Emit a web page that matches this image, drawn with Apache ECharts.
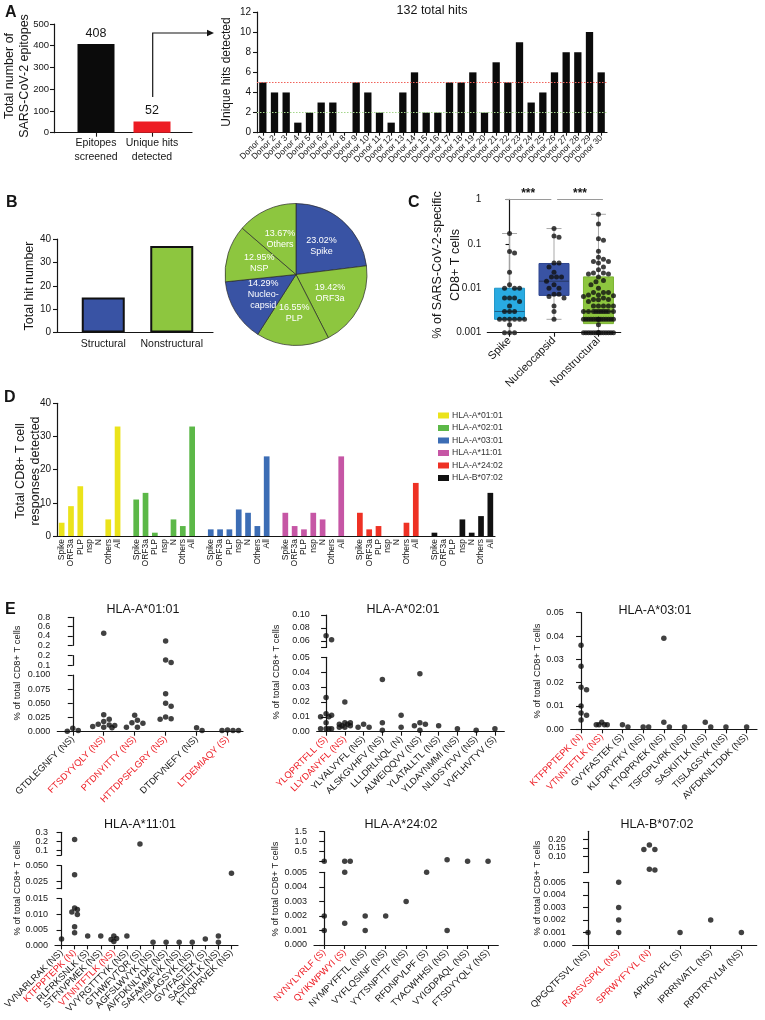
<!DOCTYPE html>
<html><head><meta charset="utf-8">
<script src="https://cdn.jsdelivr.net/npm/echarts@6/dist/echarts.min.js"></script>
<style>html,body{margin:0;padding:0;background:#fff}#c{width:765px;height:1020px}</style>
</head><body><div id="c"></div>
<script>
// ================= DATA =================
// Panel A (left)
const epitopeCategories = ['Epitopes\nscreened', 'Unique hits\ndetected'];
const epitopeCounts = [408, 52];
// Panel A (right)
const hitsTitle = '132 total hits';
const donorLabels = ['Donor 1','Donor 2','Donor 3','Donor 4','Donor 5','Donor 6','Donor 7','Donor 8','Donor 9','Donor 10',
  'Donor 11','Donor 12','Donor 13','Donor 14','Donor 15','Donor 16','Donor 17','Donor 18','Donor 19','Donor 20',
  'Donor 21','Donor 22','Donor 23','Donor 24','Donor 25','Donor 26','Donor 27','Donor 28','Donor 29','Donor 30'];
const donorHits = [5,4,4,1,2,3,3,0,5,4,2,1,4,6,2,2,5,5,6,2,7,5,9,3,4,6,8,8,10,6];
const donorRefLines = [5, 2];
// Panel B
const hitTypeCategories = ['Structural', 'Nonstructural'];
const hitTypeCounts = [15, 37];
const pieNames = ['Spike', 'ORF3a', 'PLP', 'Nucleo-\ncapsid', 'NSP', 'Others'];
const pieValues = [23.02, 19.42, 16.55, 14.29, 12.95, 13.67];
const pieIsStructural = [true, false, false, true, false, false];
// Panel C  (box stats: min, Q1, median, Q3, max)
const responseCategories = ['Spike', 'Nucleocapsid', 'Nonstructural'];
const spikeBox = [0.001, 0.002, 0.003, 0.010, 0.17];
const nucleocapsidBox = [0.002, 0.0069, 0.0144, 0.036, 0.22];
const nonstructuralBox = [0.001, 0.0016, 0.003, 0.018, 0.46];
const spikePoints = [0.17,0.067,0.062,0.023,0.012,0.010,0.010,0.010,0.006,0.006,0.006,0.005,0.004,0.003,0.003,0.003,
  0.002,0.002,0.002,0.002,0.002,0.002,0.0015,0.001,0.001,0.001];
const nucleocapsidPoints = [0.22,0.15,0.14,0.037,0.037,0.030,0.023,0.018,0.018,0.018,0.0144,0.012,0.010,0.010,
  0.0073,0.0073,0.0065,0.006,0.004,0.003,0.002];
const nonstructuralPoints = [0.46,0.28,0.13,0.12,0.068,0.050,0.045,0.040,0.040,0.037,0.030,0.026,0.022,0.022,0.021,0.021,
  0.018,0.015,0.014,0.012,0.010,0.008,0.008,0.008,0.007,0.007,0.0068,0.0065,0.006,0.0056,0.0056,0.0055,0.005,
  0.004,0.004,0.004,0.004,0.004,0.003,0.003,0.003,0.003,0.003,0.003,0.003,0.003,0.003,0.003,
  0.002,0.002,0.002,0.002,0.002,0.002,0.002,0.002,0.002,0.002,0.002,0.002,0.002,0.002,0.002,0.0015,
  0.001,0.001,0.001,0.001,0.001,0.001,0.001,0.001,0.001,0.001,0.001,0.001,0.001,0.001,0.001];
const significanceLabel = '***';
// Panel D
const proteinCategories = ['Spike', 'ORF3a', 'PLP', 'nsp', 'N', 'Others', 'All'];
const hlaAlleles = ['HLA-A*01:01', 'HLA-A*02:01', 'HLA-A*03:01', 'HLA-A*11:01', 'HLA-A*24:02', 'HLA-B*07:02'];
const a0101Counts = [4, 9, 15, 0, 0, 5, 33];
const a0201Counts = [11, 13, 1, 0, 5, 3, 33];
const a0301Counts = [2, 2, 2, 8, 7, 3, 24];
const a1101Counts = [7, 3, 2, 7, 5, 0, 24];
const a2402Counts = [7, 2, 3, 0, 0, 4, 16];
const b0702Counts = [1, 0, 0, 5, 1, 6, 13];
// Panel E
const e0101Labels = ['GTDLEGNFY (NS)','FTSDYYQLY (NS)','PTDNYITTY (NS)','HTTDPSFLGRY (NS)','DTDFVNEFY (NS)','LTDEMIAQY (S)'];
const e0101Highlighted = ['FTSDYYQLY (NS)','PTDNYITTY (NS)','HTTDPSFLGRY (NS)','LTDEMIAQY (S)'];
const e0101Values = [[0.006,0.001,0.002],[0.46,0.030,0.013,0.011,0.009,0.007,0.008,0.012,0.018,0.022],
  [0.020,0.029,0.016,0.008,0.008,0.015],[0.29,0.155,0.13,0.067,0.050,0.045,0.026,0.022,0.023],[0.002,0.007],[0.002,0.002,0.002,0.003]];
const e0101Breaks = [[0,0.1],[0.1,0.2],[0.2,0.8]];
const e0101Ticks = [['0.000','0.025','0.050','0.075','0.100'],['0.1','0.2'],['0.2','0.4','0.6','0.8']];

const e0201Labels = ['YLQPRTFLL (S)','LLYDANYFL (NS)','YLYALVYFL (NS)','ALSKGVHFV (NS)','LLLDRLNQL (N)','ALWEIQQVV (NS)',
  'YLATALLTL (NS)','YLDAYNMMI (NS)','NLIDSYFVV (NS)','VVFLHVTYV (S)'];
const e0201Highlighted = ['YLQPRTFLL (S)','LLYDANYFL (NS)'];
const e0201Values = [[0.062,0.068,0.023,0.012,0.011,0.010,0.010,0.006,0.002,0.002,0.002,0.002],
  [0.020,0.005,0.004,0.006,0.003,0.003,0.004,0.005,0.006],[0.005,0.003,0.003],[0.035,0.006,0.001],[0.011,0.003],
  [0.039,0.006,0.005,0.004,0.001],[0.004],[0.002],[0.001],[0.002]];
const e0201Breaks = [[0,0.05],[0.05,0.10]];
const e0201Ticks = [['0.00','0.01','0.02','0.03','0.04','0.05'],['0.06','0.08','0.10']];

const e0301Labels = ['KTFPPTEPK (N)','VTNNTFTLK (NS)','GVYFASTEK (S)','KLFDRYFKY (NS)','KTIQPRVEK (NS)','TSFGPLVRK (NS)',
  'SASKIITLK (NS)','TISLAGSYK (NS)','AVFDKNLTDDK (NS)'];
const e0301Highlighted = ['KTFPPTEPK (N)','VTNNTFTLK (NS)'];
const e0301Values = [[0.036,0.027,0.017,0.018,0.010,0.007,0.006,0.004],[0.002,0.002,0.002,0.002,0.003],[0.001,0.002],
  [0.001,0.001],[0.001,0.039,0.003],[0.001],[0.001,0.003],[0.001],[0.001]];
const e0301Breaks = [[0,0.05]];
const e0301Ticks = [['0.00','0.01','0.02','0.03','0.04','0.05']];

const e1101Labels = ['VVNARLRAK (NS)','KTFPPTEPK (N)','RLFRKSNLK (S)','STFNVPMEK (NS)','VTNNTFTLK (NS)','VVYRGTTTYK (NS)',
  'GTHWFVTQR (S)','AGFSLWVYK (NS)','AVFDKNLYDK (NS)','SAFAMMFVK (NS)','TISLAGSYK (NS)','GVYFASTEK (S)','SASKIITLK (NS)','KTIQPRVEK (NS)'];
const e1101Highlighted = ['KTFPPTEPK (N)','VTNNTFTLK (NS)'];
const e1101Values = [[0.002],[0.22,0.036,0.012,0.0115,0.0107,0.0099,0.004,0.006],[0.003],[0.003],[0.003,0.0022,0.0012,0.0019],
  [0.003],[0.17],[0.001],[0.001],[0.001],[0.001],[0.002],[0.001,0.003],[0.038]];
const e1101Breaks = [[0,0.015],[0.014,0.05],[0.05,0.3]];
const e1101Ticks = [['0.000','0.005','0.010','0.015'],['0.025','0.050'],['0.1','0.2','0.3']];

const e2402Labels = ['NYNYLYRLF (S)','QYIKWPWYI (S)','NYMPYFFTL (NS)','VYFLQSINF (NS)','YYTSNPTTF (NS)','RFDNPVLPF (S)',
  'TYACWHHSI (NS)','VYIGDPAQL (NS)','FTSDYYQLY (NS)'];
const e2402Highlighted = ['NYNYLYRLF (S)','QYIKWPWYI (S)'];
const e2402Values = [[0.02,0.002,0.001],[0.02,0.02,0.005,0.0015],[0.002,0.001],[0.002],[0.003],[0.005],[0.1,0.001],[0.02],[0.02]];
const e2402Breaks = [[0,0.005],[0,1.5]];
const e2402Ticks = [['0.000','0.001','0.002','0.003','0.004','0.005'],['0.5','1.0','1.5']];

const b0702Labels = ['QPGQTFSVL (NS)','RARSVSPKL (NS)','SPRWYFYYL (N)','APHGVVFL (S)','IPRRNVATL (NS)','RPDTRYVLM (NS)'];
const b0702Highlighted = ['RARSVSPKL (NS)','SPRWYFYYL (N)'];
const b0702Values = [[0.001],[0.005,0.003,0.002,0.001],[0.14,0.14,0.167,0.016,0.02],[0.001],[0.002],[0.001]];
const b0702Breaks = [[0,0.005],[0,0.25]];
const b0702Ticks = [['0.000','0.001','0.002','0.003','0.004','0.005'],['0.05','0.10','0.15','0.20','0.25']];

// ================= STYLE / LAYOUT =================
const FONT = '"Liberation Sans", Arial, Helvetica, sans-serif';
const INK = '#151515';
const RED = '#ed1c24';
const BLUE = '#3953a4';
const GREEN = '#8dc63f';
const hlaColors = ['#ebe31b', '#5cb848', '#3c6db5', '#c656a5', '#ee3124', '#111111'];

function merge(a, b) {
  const o = Object.assign({}, a);
  for (const k in b) {
    if (b[k] && typeof b[k] === 'object' && !Array.isArray(b[k]) && a[k] && typeof a[k] === 'object' && !Array.isArray(a[k])) o[k] = merge(a[k], b[k]);
    else o[k] = b[k];
  }
  return o;
}
const grids = [], xAxes = [], yAxes = [], series = [], graphics = [];
function addGrid(l, t, w, h) { grids.push({left: l, top: t, width: w, height: h, containLabel: false}); return grids.length - 1; }
const baseAxis = {
  axisLine: {show: true, lineStyle: {color: INK, width: 1.2}},
  axisTick: {show: true, length: 4, lineStyle: {color: INK, width: 1.1}},
  axisLabel: {color: INK, fontFamily: FONT, fontSize: 10, margin: 6},
  splitLine: {show: false},
  axisPointer: {show: false}
};
function addX(o) { xAxes.push(merge(baseAxis, o)); return xAxes.length - 1; }
function addY(o) { yAxes.push(merge(baseAxis, o)); return yAxes.length - 1; }
function text(x, y, str, o) {
  o = o || {};
  graphics.push({type: 'text', x: x, y: y, rotation: o.rot || 0, silent: true, style: {
    text: str, fill: o.color || INK, fontFamily: FONT, fontSize: o.size || 12, fontWeight: o.weight || 'normal',
    align: o.align || 'center', verticalAlign: 'middle', lineHeight: o.lh || undefined }});
}
function swarm(py, dot, maxHalf) {
  const order = py.map((v, i) => i).sort((a, b) => py[a] - py[b]);
  const placed = [], off = new Array(py.length).fill(0), step = dot / 2;
  for (const i of order) {
    let chosen = null, best = -1, bestOff = 0;
    for (let k = 0; ; k++) {
      const o = (k % 2 === 1 ? 1 : -1) * Math.ceil(k / 2) * step;
      if (Math.abs(o) > maxHalf + 1e-6) break;
      let md = Infinity;
      for (const p of placed) { const d = Math.hypot(p[0] - o, p[1] - py[i]); if (d < md) md = d; }
      if (md >= dot) { chosen = o; break; }
      if (md > best) { best = md; bestOff = o; }
    }
    if (chosen === null) chosen = bestOff;
    off[i] = chosen + 0; placed.push([chosen, py[i]]);
  }
  return off;
}

// ---------- Panel A left ----------
{
  const g = addGrid(54, 24, 138, 108.7);
  addX({gridIndex: g, type: 'category', data: [''], axisTick: {show: false}, axisLabel: {show: false}});
  addY({gridIndex: g, type: 'value', min: 0, max: 500, interval: 100, axisLabel: {fontSize: 9.5, margin: 5}});
  const g2 = addGrid(68, 24, 112, 108.7);
  const xi = addX({gridIndex: g2, type: 'category', data: epitopeCategories, axisLine: {show: false},
    axisTick: {alignWithLabel: true}, axisLabel: {fontSize: 10.5, lineHeight: 14, margin: 3, interval: 0}});
  const yi = addY({gridIndex: g2, type: 'value', min: 0, max: 500, show: false});
  series.push({type: 'bar', xAxisIndex: xi, yAxisIndex: yi, barWidth: 37,
    data: epitopeCounts.map((v, i) => ({value: v, itemStyle: {color: i === 0 ? '#0b0b0b' : RED}})),
    label: {show: true, position: 'top', distance: 4, fontSize: 12.5, color: INK, fontFamily: FONT}});
  graphics.push({type: 'polyline', silent: true, shape: {points: [[152.7, 97], [152.7, 33], [208, 33]]}, style: {stroke: INK, lineWidth: 1.2, fill: null}});
  graphics.push({type: 'polygon', silent: true, shape: {points: [[207, 29.8], [214, 33], [207, 36.2]]}, style: {fill: INK}});
  text(17, 76, 'Total number of\nSARS-CoV-2 epitopes', {rot: Math.PI / 2, size: 12.5, lh: 15});
}
// ---------- Panel A right ----------
{
  const g = addGrid(257, 12, 350, 120.7);
  const xi = addX({gridIndex: g, type: 'category', data: donorLabels, axisTick: {alignWithLabel: true, length: 3},
    axisLabel: {rotate: 45, interval: 0, fontSize: 8.5, margin: 4}});
  const yi = addY({gridIndex: g, type: 'value', min: 0, max: 12, interval: 2, axisLabel: {fontSize: 10}});
  series.push({type: 'bar', xAxisIndex: xi, yAxisIndex: yi, data: donorHits, barWidth: 7.3, itemStyle: {color: '#0b0b0b'},
    markLine: {silent: true, symbol: ['none', 'none'], label: {show: false}, animation: false,
      data: [{yAxis: donorRefLines[0], lineStyle: {color: '#f0625a', type: [1.5, 1.5], width: 1}},
             {yAxis: donorRefLines[1], lineStyle: {color: '#a5d68c', type: [1.5, 1.5], width: 1}}]}});
  text(432, 11, hitsTitle, {size: 12.5});
  text(227, 72, 'Unique hits detected', {rot: Math.PI / 2, size: 12});
}
// ---------- Panel B bar ----------
{
  const g = addGrid(57, 239, 156, 93.5);
  addX({gridIndex: g, type: 'category', data: [''], axisTick: {show: false}, axisLabel: {show: false}});
  addY({gridIndex: g, type: 'value', min: 0, max: 40, interval: 10, axisLabel: {fontSize: 10}});
  const g2 = addGrid(69, 239, 137, 93.5);
  const xi = addX({gridIndex: g2, type: 'category', data: hitTypeCategories, axisLine: {show: false},
    axisTick: {show: false}, axisLabel: {fontSize: 10.5, margin: 6, interval: 0}});
  const yi = addY({gridIndex: g2, type: 'value', min: 0, max: 40, show: false});
  series.push({type: 'bar', xAxisIndex: xi, yAxisIndex: yi, barWidth: 43,
    data: hitTypeCounts.map((v, i) => ({value: v, itemStyle: {color: i === 0 ? BLUE : GREEN, borderColor: '#111', borderWidth: 2}}))});
  text(30, 286, 'Total hit number', {rot: Math.PI / 2, size: 12.5});
  // pie
  series.push({type: 'pie', center: [296, 274.5], radius: 71, startAngle: 90, clockwise: true, silent: true,
    data: pieValues.map((v, i) => ({value: v, name: pieNames[i], itemStyle: {color: pieIsStructural[i] ? BLUE : GREEN}})),
    itemStyle: {borderColor: '#2a2a2a', borderWidth: 0.7},
    label: {show: true, position: 'inside', color: '#fff', fontSize: 9, lineHeight: 11, fontFamily: FONT,
      formatter: p => p.value.toFixed(2) + '%\n' + p.name},
    labelLine: {show: false}});
}
// ---------- Panel C ----------
{
  const left = 487.3, top = 199.3, w = 133.4, h = 133.4;
  const g = addGrid(left, top, w, h);
  addX({gridIndex: g, type: 'category', data: responseCategories, axisTick: {alignWithLabel: true},
    axisLabel: {rotate: 45, fontSize: 11, margin: 6, interval: 0}});
  const xv = addX({gridIndex: g, type: 'value', min: -0.5, max: 2.5, show: false});
  const yi = addY({gridIndex: g, type: 'log', logBase: 10, min: 0.001, max: 1, axisLabel: {fontSize: 10}, minorTick: {show: false}});
  const boxes = [spikeBox, nucleocapsidBox, nonstructuralBox];
  const boxFill = ['#29abe2', BLUE, GREEN];
  const boxStroke = ['#2196c8', '#2f4690', '#7bb332'];
  const medColor = ['#1d5f86', '#27365f', '#4d6e25'];
  series.push({type: 'custom', xAxisIndex: xv, yAxisIndex: yi, silent: true, z: 2,
    encode: {x: 0, y: [1, 2, 3, 4, 5]},
    data: boxes.map((b, i) => [i].concat(b)),
    renderItem: (params, api) => {
      const x = api.value(0), i = params.dataIndex;
      const p = [1, 2, 3, 4, 5].map(d => api.coord([x, api.value(d)]));
      const cx = p[0][0], hw = 15, cw = 7.5;
      return {type: 'group', children: [
        {type: 'line', shape: {x1: cx, y1: p[0][1], x2: cx, y2: p[4][1]}, style: {stroke: '#a9a9a9', lineWidth: 1}},
        {type: 'line', shape: {x1: cx - cw, y1: p[0][1], x2: cx + cw, y2: p[0][1]}, style: {stroke: '#a9a9a9', lineWidth: 1}},
        {type: 'line', shape: {x1: cx - cw, y1: p[4][1], x2: cx + cw, y2: p[4][1]}, style: {stroke: '#a9a9a9', lineWidth: 1}},
        {type: 'rect', shape: {x: cx - hw, y: p[3][1], width: 2 * hw, height: p[1][1] - p[3][1]}, style: {fill: boxFill[i], stroke: boxStroke[i], lineWidth: 1}},
        {type: 'line', shape: {x1: cx - hw, y1: p[2][1], x2: cx + hw, y2: p[2][1]}, style: {stroke: medColor[i], lineWidth: 1}}
      ]};
    }});
  const lmin = Math.log10(0.001), lmax = Math.log10(1);
  const toPy = v => top + h - (Math.log10(v) - lmin) / (lmax - lmin) * h;
  const slot = w / 3;
  const pts = [];
  [spikePoints, nucleocapsidPoints, nonstructuralPoints].forEach((arr, ci) => {
    const off = swarm(arr.map(toPy), 5, 15);
    arr.forEach((v, j) => pts.push([ci + off[j] / slot, v]));
  });
  series.push({type: 'scatter', xAxisIndex: xv, yAxisIndex: yi, data: pts, symbolSize: 5, itemStyle: {color: '#111'}, z: 3, silent: true, clip: false,
    markLine: {silent: true, symbol: ['none', 'none'], animation: false, lineStyle: {color: '#9a9a9a', type: 'solid', width: 1},
      label: {show: true, position: 'middle', formatter: significanceLabel, fontSize: 12, fontWeight: 'bold', color: INK, distance: 0},
      data: [[{coord: [-0.1, 1]}, {coord: [0.94, 1]}], [{coord: [1.07, 1]}, {coord: [2.1, 1]}]]}});
  text(447, 265, '% of SARS-CoV-2-specific\nCD8+ T cells', {rot: Math.PI / 2, size: 12.5, lh: 18});
}
// ---------- Panel D ----------
{
  const cats = [];
  hlaAlleles.forEach((a, gi) => { proteinCategories.forEach(c => cats.push(c)); if (gi < hlaAlleles.length - 1) cats.push(''); });
  const g = addGrid(57, 403.3, 438, 132.7);
  const xi = addX({gridIndex: g, type: 'category', data: cats, axisTick: {show: false},
    axisLabel: {rotate: 90, interval: 0, fontSize: 8.5, margin: 3}});
  const yi = addY({gridIndex: g, type: 'value', min: 0, max: 40, interval: 10, axisLabel: {fontSize: 10}});
  const counts = [a0101Counts, a0201Counts, a0301Counts, a1101Counts, a2402Counts, b0702Counts];
  counts.forEach((arr, gi) => {
    const data = cats.map(() => '-');
    arr.forEach((v, k) => { data[gi * 8 + k] = v; });
    series.push({type: 'bar', name: hlaAlleles[gi], xAxisIndex: xi, yAxisIndex: yi, data: data, barWidth: 5.7, barGap: '-100%',
      itemStyle: {color: hlaColors[gi]}});
  });
  text(28, 471, 'Total CD8+ T cell\nresponses detected', {rot: Math.PI / 2, size: 12.5, lh: 15});
}
// ---------- Panel E ----------
const eSubplots = [
  {labels: e0101Labels, hi: e0101Highlighted, values: e0101Values, breaks: e0101Breaks, ticks: e0101Ticks, title: 'HLA-A*01:01',
   x0: 57.3, x1: 243, px: [[675, 731.7], [655.7, 665.3], [617.3, 645.3]], titleXY: [143, 610], yTitleXY: [17, 673]},
  {labels: e0201Labels, hi: e0201Highlighted, values: e0201Values, breaks: e0201Breaks, ticks: e0201Ticks, title: 'HLA-A*02:01',
   x0: 316.7, x1: 504.3, px: [[657.3, 731.7], [615, 647.5]], titleXY: [403, 610], yTitleXY: [276, 672]},
  {labels: e0301Labels, hi: e0301Highlighted, values: e0301Values, breaks: e0301Breaks, ticks: e0301Ticks, title: 'HLA-A*03:01',
   x0: 570.7, x1: 757, px: [[612.7, 729.3]], titleXY: [655, 611], yTitleXY: [537, 671]},
  {labels: e1101Labels, hi: e1101Highlighted, values: e1101Values, breaks: e1101Breaks, ticks: e1101Ticks, title: 'HLA-A*11:01',
   x0: 55, x1: 238, px: [[898.7, 945.3], [865.7, 888.7], [832.3, 855]], titleXY: [140, 825], yTitleXY: [17, 888]},
  {labels: e2402Labels, hi: e2402Highlighted, values: e2402Values, breaks: e2402Breaks, ticks: e2402Ticks, title: 'HLA-A*24:02',
   x0: 314, x1: 498.3, px: [[872.3, 945], [831.7, 861.7]], titleXY: [401, 825], yTitleXY: [275, 889]},
  {labels: b0702Labels, hi: b0702Highlighted, values: b0702Values, breaks: b0702Breaks, ticks: b0702Ticks, title: 'HLA-B*07:02',
   x0: 572.7, x1: 756.7, px: [[882.3, 945], [831.3, 872.6]], titleXY: [657, 825], yTitleXY: [537, 888]}
];
eSubplots.forEach(sp => {
  const n = sp.labels.length, slot = (sp.x1 - sp.x0) / n;
  const segs = sp.breaks.map((b, i) => ({min: b[0], max: b[1], top: sp.px[i][0], bottom: sp.px[i][1], ticks: sp.ticks[i]}));
  const segPts = segs.map(() => []);
  sp.values.forEach((vals, ci) => {
    const si = vals.map(v => { for (let k = 0; k < segs.length; k++) if (v >= segs[k].min && v <= segs[k].max) return k; return segs.length - 1; });
    const py = vals.map((v, j) => { const s = segs[si[j]]; return s.bottom - (v - s.min) / (s.max - s.min) * (s.bottom - s.top); });
    const off = swarm(py, 5.5, Math.min(0.42 * slot, 13));
    vals.forEach((v, j) => segPts[si[j]].push([ci + off[j] / slot, v]));
  });
  const idx = sp.labels.map((l, i) => i);
  segs.forEach((s, k) => {
    const g = addGrid(sp.x0, s.top, sp.x1 - sp.x0, s.bottom - s.top);
    let xi;
    if (k === 0) {
      xi = addX({gridIndex: g, type: 'value', min: -0.5, max: n - 0.5,
        axisTick: {customValues: idx, length: 4},
        axisLabel: {customValues: idx, rotate: 45, fontSize: 9.3, margin: 6,
          formatter: v => { const l = sp.labels[Math.round(v)]; return sp.hi.indexOf(l) >= 0 ? '{r|' + l + '}' : '{k|' + l + '}'; },
          rich: {r: {color: RED, fontSize: 9.3, fontFamily: FONT}, k: {color: INK, fontSize: 9.3, fontFamily: FONT}}}});
    } else {
      xi = addX({gridIndex: g, type: 'value', min: -0.5, max: n - 0.5, show: false});
    }
    const tickVals = s.ticks.map(t => parseFloat(t));
    const marks = tickVals.slice();
    if (k > 0) { if (marks.indexOf(s.min) < 0) marks.push(s.min); if (marks.indexOf(s.max) < 0) marks.push(s.max); }
    const yi = addY({gridIndex: g, type: 'value', min: s.min, max: s.max,
      axisTick: {customValues: marks, length: 5},
      axisLabel: {customValues: tickVals, fontSize: 9, margin: 7,
        formatter: v => { for (let q = 0; q < tickVals.length; q++) if (Math.abs(tickVals[q] - v) < 1e-9) return s.ticks[q]; return ''; }}});
    series.push({type: 'scatter', xAxisIndex: xi, yAxisIndex: yi, data: segPts[k], symbolSize: 5.5, clip: false, silent: true,
      itemStyle: {color: '#111'}});
  });
  text(sp.titleXY[0], sp.titleXY[1], sp.title, {size: 12.5});
  text(sp.yTitleXY[0], sp.yTitleXY[1], '% of total CD8+ T cells', {rot: Math.PI / 2, size: 9.3});
});
// ---------- Panel letters ----------
[['A', 5, 13], ['B', 6, 203], ['C', 408, 203], ['D', 4, 398], ['E', 5, 610]].forEach(l =>
  text(l[1], l[2], l[0], {size: 16, weight: 'bold', align: 'left'}));

const chart = echarts.init(document.getElementById('c'), null, {renderer: 'canvas'});
chart.setOption({
  animation: false,
  backgroundColor: '#fff',
  textStyle: {fontFamily: FONT},
  grid: grids, xAxis: xAxes, yAxis: yAxes, series: series,
  legend: {show: true, left: 433, top: 406, orient: 'vertical', data: hlaAlleles, icon: 'rect', itemWidth: 11, itemHeight: 6,
    itemGap: 3.5, textStyle: {fontSize: 8.7, color: '#333', fontFamily: FONT, padding: [0, 0, 0, -2]}, selectedMode: false},
  graphic: {elements: graphics}
});
</script></body></html>
